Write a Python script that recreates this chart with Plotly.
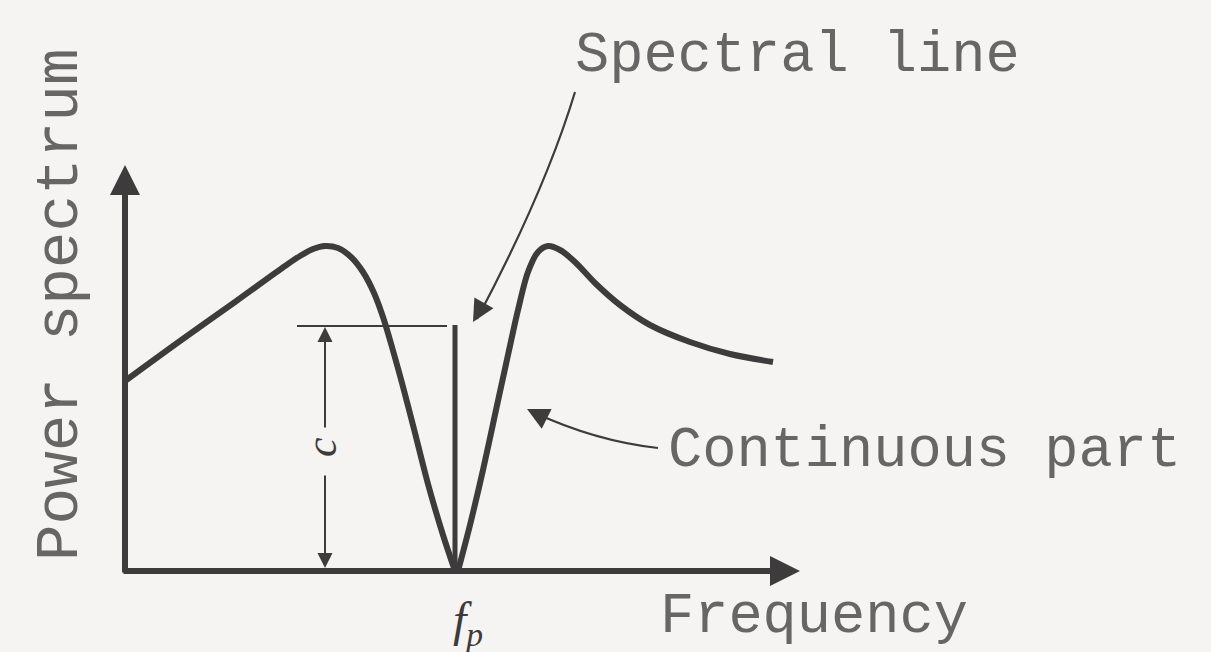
import plotly.graph_objects as go

# Continuous part of the power spectrum, below the spectral line frequency f_p
freq_low = [0, 55, 110, 160, 175, 188, 200, 213, 226, 238, 249, 258, 267, 277, 289, 303, 318, 330]
power_low = [190, 230, 269, 305, 315, 322, 325, 323, 314, 299, 278, 254, 224, 188, 142, 87, 36, 0]

# Continuous part above f_p
freq_high = [333, 345, 358, 371, 383, 393, 403, 413, 423, 435, 450, 470, 495, 525, 565, 605, 648]
power_high = [0, 46, 101, 161, 216, 261, 299, 319, 325, 321, 309, 288, 266, 246, 229, 217, 209]

# Spectral line at f_p with strength c
f_p = 330
c_level = 246

# Axis extents
freq_axis_end = 675
power_axis_end = 406

INK = "#3d3b3b"
TEXT = "#676565"
BG = "#f6f3f3"
MONO = "Liberation Mono, Courier New, monospace"
SERIF = "Liberation Serif, Times New Roman, serif"

fig = go.Figure()

for fx, py in ((freq_low, power_low), (freq_high, power_high)):
    fig.add_trace(go.Scatter(
        x=fx, y=py, mode="lines",
        line=dict(color=INK, width=6, shape="spline", smoothing=0.9),
        hoverinfo="skip", showlegend=False,
    ))

# the spectral line itself
fig.add_trace(go.Scatter(
    x=[f_p, f_p], y=[0, c_level], mode="lines",
    line=dict(color=INK, width=5), hoverinfo="skip", showlegend=False,
))

# reference level for c
fig.add_trace(go.Scatter(
    x=[172, f_p - 8], y=[c_level - 1, c_level - 1], mode="lines",
    line=dict(color=INK, width=2), hoverinfo="skip", showlegend=False,
))

annotations = []

def arrow(x, y, ax, ay, width, size, color=INK):
    annotations.append(dict(
        x=x, y=y, ax=ax, ay=ay, xref="x", yref="y", axref="x", ayref="y",
        text="", showarrow=True, arrowhead=2, arrowwidth=width,
        arrowsize=size, arrowcolor=color,
    ))

# coordinate axes
arrow(freq_axis_end, 0, -3, 0, 6, 1.0)
arrow(0, power_axis_end, 0, -3, 6, 1.0)

# c dimension arrows, split around the label
arrow(200, c_level - 2, 200, 142, 2, 1.5)
arrow(200, 3, 200, 97, 2, 1.5)

# leader lines for the callouts
fig.add_shape(type="path", xref="x", yref="y",
              path="M 450 479 Q 420 380 352 252",
              line=dict(color=INK, width=2.2))
arrow(348, 249, 356, 263, 2.2, 2.0)

fig.add_shape(type="path", xref="x", yref="y",
              path="M 533 123 Q 470 130 408 159",
              line=dict(color=INK, width=2.2))
arrow(402, 162, 414, 156, 2.2, 2.0)

def label(text, x, y, size, font=MONO, xanchor="left", angle=0, color=TEXT):
    annotations.append(dict(
        x=x, y=y, xref="x", yref="y", text=text, showarrow=False,
        xanchor=xanchor, yanchor="middle", textangle=angle,
        font=dict(family=font, size=size, color=color),
    ))

label("Spectral line", 448, 515, 57)
label("Continuous part", 541, 120, 57)
label("Frequency", 533, -46, 57)
label("Power spectrum", -65, 266, 61, xanchor="center", angle=-90)
label("<i>c</i>", 196, 124, 44, font=SERIF, xanchor="center", angle=-90, color=INK)
label("<i>f<sub>p</sub></i>", 343, -52, 48, font=SERIF, xanchor="center", color=INK)

fig.update_layout(
    width=1211, height=652,
    margin=dict(l=0, r=0, t=0, b=0),
    paper_bgcolor=BG, plot_bgcolor=BG,
    xaxis=dict(range=[-125, 1086], visible=False, fixedrange=True),
    yaxis=dict(range=[-81, 571], visible=False, fixedrange=True),
    annotations=annotations,
    showlegend=False,
)

fig.write_html("out.html")
